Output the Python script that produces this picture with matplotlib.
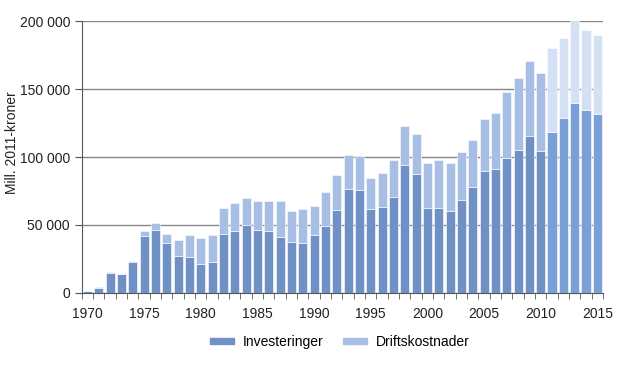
import numpy as np
import matplotlib
matplotlib.use("Agg")
import matplotlib.pyplot as plt
from matplotlib.patches import Patch
from matplotlib.ticker import FuncFormatter

plt.rcParams['font.family'] = ['Liberation Sans', 'DejaVu Sans']

# data (Mill. 2011-kroner)
years = list(range(1970, 2016))
investeringer = [1000, 3700, 14700, 13500, 22400, 41800, 46200, 36900, 26800, 26500,
                 21400, 22800, 43000, 45700, 49900, 46200, 45700, 41000, 37600, 36400,
                 42300, 48900, 60700, 76200, 75400, 61400, 63100, 70500, 94100, 87500,
                 62700, 62200, 60400, 68300, 77900, 89900, 91400, 99000, 105400, 115200,
                 104400, 118700, 129000, 139600, 134400, 131400]
totalt = [1200, 4400, 15200, 14200, 23100, 45500, 51400, 43000, 38800, 42300,
          40500, 42500, 62400, 65800, 69500, 67300, 67300, 67800, 60400, 61900,
          63600, 74000, 87000, 101700, 100500, 84500, 88000, 97500, 122900, 117000,
          95300, 97500, 95800, 103700, 112500, 127800, 132400, 147700, 158500, 170800,
          161900, 180100, 188000, 200000, 193600, 190200]
driftskostnader = [t - i for t, i in zip(totalt, investeringer)]
first_prognose = 2011  # lighter bars from here on

dark = '#6f91c6'
light = '#a7bfe5'
dark_p = '#7aa0d8'
light_p = '#d4e1f4'

x = np.array(years)
is_prog = x >= first_prognose
col_inv = [dark_p if p else dark for p in is_prog]
col_drift = [light_p if p else light for p in is_prog]

fig = plt.figure(figsize=(6.2, 3.73), dpi=100)
ax = fig.add_axes([0.132, 0.215, 0.8406, 0.728])

ax.bar(x, investeringer, width=0.8, color=col_inv, edgecolor='white', linewidth=0.4, zorder=3)
ax.bar(x, driftskostnader, bottom=investeringer, width=0.8, color=col_drift,
       edgecolor='white', linewidth=0.4, zorder=3)

ax.set_xlim(1969.5, 2015.5)
ax.set_ylim(0, 200000)
ax.set_yticks(range(0, 200001, 50000))
ax.yaxis.set_major_formatter(FuncFormatter(lambda v, p: f"{int(v):,}".replace(",", " ")))
ax.set_xticks(range(1970, 2016, 5))
ax.set_xticks(np.arange(1969.5, 2016, 1), minor=True)
ax.tick_params(axis='x', which='major', length=0, pad=10, labelsize=10, colors='#222222')
ax.tick_params(axis='x', which='minor', length=4, direction='out', color='#555555')
ax.tick_params(axis='y', length=5, direction='out', labelsize=10, color='#555555', labelcolor='#222222')

ax.grid(axis='y', color='#888888', linewidth=1, zorder=0)
for s in ['top', 'right']:
    ax.spines[s].set_visible(False)
for s in ['left', 'bottom']:
    ax.spines[s].set_color('#555555')

fig.text(0.019, 0.617, 'Mill. 2011-kroner', rotation=90, ha='center', va='center',
         fontsize=10, color='#222222')

handles = [Patch(color=dark, label='Investeringer'), Patch(color=light, label='Driftskostnader')]
fig.legend(handles=handles, loc='center', bbox_to_anchor=(0.548, 0.083), ncol=2, frameon=False,
           fontsize=10, handlelength=1.7, handleheight=0.35, columnspacing=1.4, handletextpad=0.65)

fig.savefig('out.png', dpi=100)
